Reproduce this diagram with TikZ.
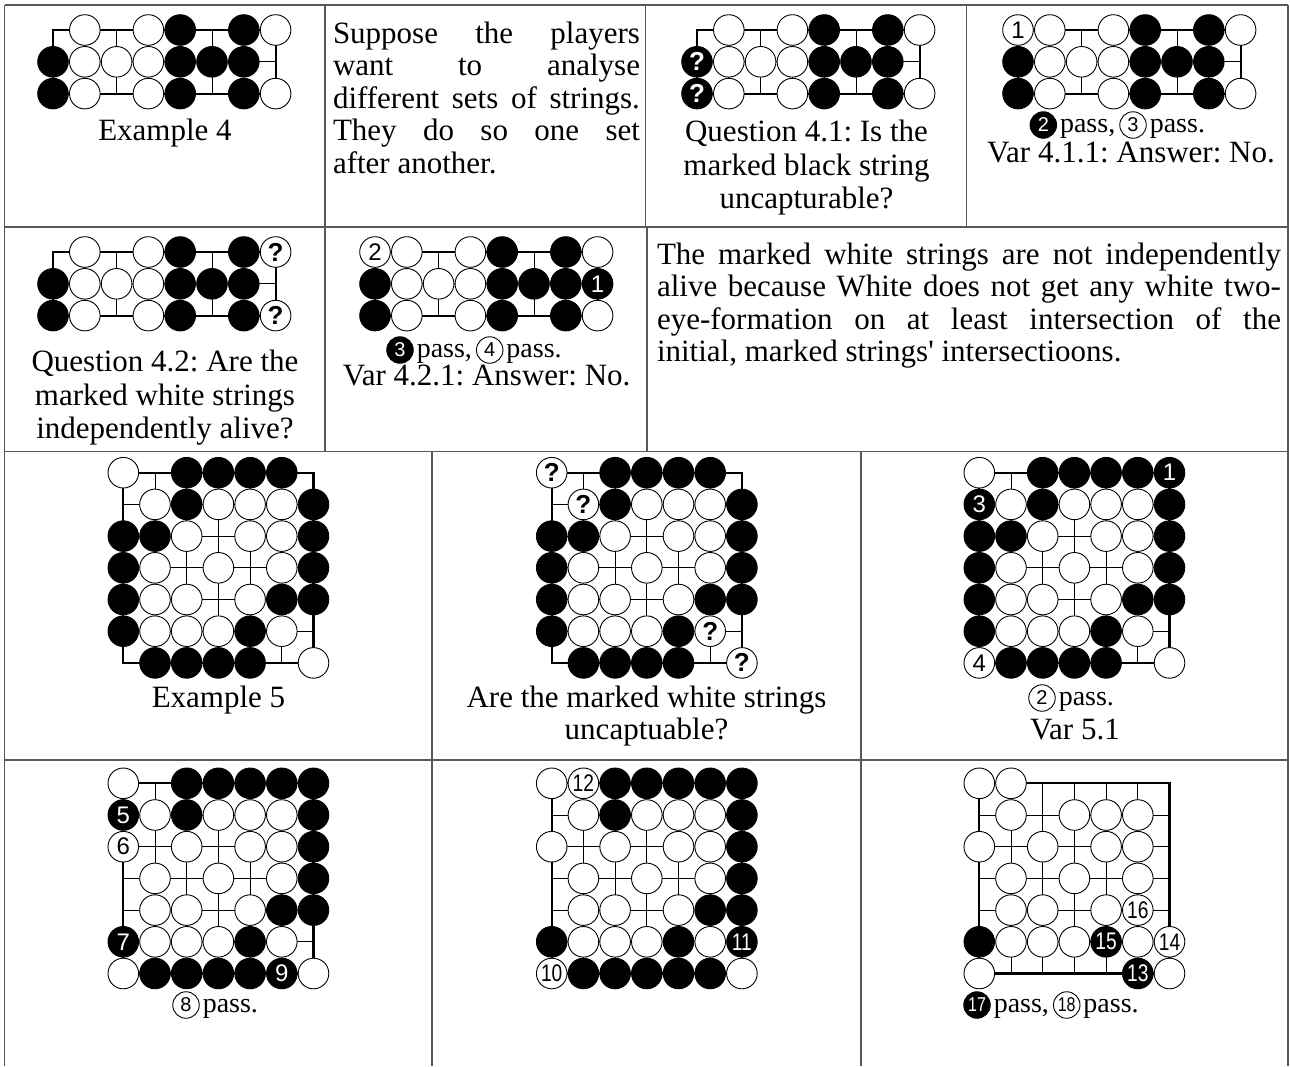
\documentclass[tikz,border=0pt]{standalone}
\usepackage{graphicx}
\usepackage{fontspec}
\setmainfont{Liberation Serif}
\newfontfamily\lsans{Liberation Sans}
\usetikzlibrary{calc}
\frenchspacing
\def\tn{n}
\newcommand\qm{{\fontsize{26}{26}\selectfont\textbf{?}}}
\newcommand\tw[1]{\scalebox{0.8}[1]{#1}}
% grid: x0,y0,lastcol,lastrow,spacing,interior cols,interior rows
\newcommand\gogrid[7]{%
  \foreach \c in {#6} \draw[gridline] ({#1+\c*#5},#2) -- ({#1+\c*#5},{#2+#4*#5});
  \foreach \r in {#7} \draw[gridline] (#1,{#2+\r*#5}) -- ({#1+#3*#5},{#2+\r*#5});
  \draw[edgeline] (#1,#2) rectangle ({#1+#3*#5},{#2+#4*#5});
}
% row of stones: name prefix, x0, y, spacing, list type/label
\newcommand\gorow[5]{%
  \foreach \stype/\slab [count=\i from 0] in {#5} {%
    \ifx\stype\tn\else
      \node[st\stype] (#1-\i) at ({#2+\i*#4},#3) {\slab};
    \fi}}
\begin{document}
\begin{tikzpicture}[x=1pt,y=-1pt,
  every node/.style={inner sep=0pt, outer sep=0pt},
  gridline/.style={line width=0.9pt, draw=black},
  edgeline/.style={line width=2.2pt, draw=black},
  stw/.style={circle, draw=black, line width=0.9pt, fill=white, text=black, minimum size=30.6pt, font=\lsans\fontsize{24}{24}\selectfont},
  stb/.style={circle, draw=black, line width=0.9pt, fill=black, text=white, minimum size=30.6pt, font=\lsans\fontsize{24}{24}\selectfont},
  smw/.style={circle, draw=black, line width=0.9pt, fill=white, text=black, minimum size=26.5pt, font=\lsans\fontsize{20}{20}\selectfont},
  smb/.style={circle, draw=black, line width=0.9pt, fill=black, text=white, minimum size=26.5pt, font=\lsans\fontsize{20}{20}\selectfont},
  txt/.style={font=\fontsize{31}{34}\selectfont, anchor=base, text=black},
  txtl/.style={txt, anchor=base west},
  pss/.style={font=\fontsize{28}{30}\selectfont, anchor=base west, text=black},
  rule/.style={line width=1.4pt, draw=black!65}
]
\fill[white] (0,0) rectangle (1290,1066);
\useasboundingbox (0,0) rectangle (1290,1066);

% ---------- table rules ----------
\draw[rule] (4.5,5) -- (1288,5);
\draw[rule] (4.5,227) -- (1288,227);
\draw[rule] (4.5,451.5) -- (1288,451.5);
\draw[rule] (4.5,760) -- (1288,760);
\draw[rule] (4.5,5) -- (4.5,1066);
\draw[rule] (1288,5) -- (1288,1066);
\draw[rule] (325,5) -- (325,451.5);
\draw[rule] (645.5,5) -- (645.5,227);
\draw[rule] (966.5,5) -- (966.5,227);
\draw[rule] (647,227) -- (647,451.5);
\draw[rule] (432,451.5) -- (432,1066);
\draw[rule] (861,451.5) -- (861,1066);

% ---------- Example 4 ----------
\gogrid{53}{30}{7}{2}{31.8}{1,...,6}{1}
\gorow{ea0}{53}{30}{31.8}{n/,w/,n/,w/,b/,n/,b/,w/}
\gorow{ea1}{53}{61.8}{31.8}{b/,w/,w/,w/,b/,b/,b/,n/}
\gorow{ea2}{53}{93.6}{31.8}{b/,w/,n/,w/,b/,n/,b/,w/}
\node[txt] (ex4) at (165,140) {Example 4};

% ---------- text cell ----------
\node[txtl] (s1) at (333,43) {\makebox[307pt][s]{Suppose the players}};
\node[txtl] (s2) at (333,75.5) {\makebox[307pt][s]{want to analyse}};
\node[txtl] (s3) at (333,108) {\makebox[307pt][s]{different sets of strings.}};
\node[txtl] (s4) at (333,140.5) {\makebox[307pt][s]{They do so one set}};
\node[txtl] (s5) at (333,173) {after another.};

% ---------- Question 4.1 ----------
\gogrid{697}{30}{7}{2}{31.8}{1,...,6}{1}
\gorow{qa0}{697}{30}{31.8}{n/,w/,n/,w/,b/,n/,b/,w/}
\gorow{qa1}{697}{61.8}{31.8}{b/\qm,w/,w/,w/,b/,b/,b/,n/}
\gorow{qa2}{697}{93.6}{31.8}{b/\qm,w/,n/,w/,b/,n/,b/,w/}
\node[txt] (q41a) at (806.5,141.7) {Question 4.1: Is the};
\node[txt] (q41b) at (806.5,175) {marked black string};
\node[txt] (q41c) at (806.5,208.3) {uncapturable?};

% ---------- Var 4.1.1 ----------
\gogrid{1018}{30}{7}{2}{31.8}{1,...,6}{1}
\gorow{va0}{1018}{30}{31.8}{w/1,w/,n/,w/,b/,n/,b/,w/}
\gorow{va1}{1018}{61.8}{31.8}{b/,w/,w/,w/,b/,b/,b/,n/}
\gorow{va2}{1018}{93.6}{31.8}{b/,w/,n/,w/,b/,n/,b/,w/}
\node[smb] (v411c1) at (1043.3,125) {2};
\path (v411c1.east) ++(3.5,7) node[pss] (v411p1) {pass,};
\path (v411p1.base east) ++(4.5,-7) node[smw, anchor=west] (v411c2) {3};
\path (v411c2.east) ++(3.5,7) node[pss] (v411p2) {pass.};
\node[txt] (v411) at (1131,162) {Var 4.1.1: Answer: No.};

% ---------- Question 4.2 ----------
\gogrid{53}{252}{7}{2}{31.8}{1,...,6}{1}
\gorow{qb0}{53}{252}{31.8}{n/,w/,n/,w/,b/,n/,b/,w/\qm}
\gorow{qb1}{53}{283.8}{31.8}{b/,w/,w/,w/,b/,b/,b/,n/}
\gorow{qb2}{53}{315.6}{31.8}{b/,w/,n/,w/,b/,n/,b/,w/\qm}
\node[txt] (q42a) at (165,371.7) {Question 4.2: Are the};
\node[txt] (q42b) at (165,405) {marked white strings};
\node[txt] (q42c) at (165,438.3) {independently alive?};

% ---------- Var 4.2.1 ----------
\gogrid{375}{252}{7}{2}{31.8}{1,...,6}{1}
\gorow{vb0}{375}{252}{31.8}{w/2,w/,n/,w/,b/,n/,b/,w/}
\gorow{vb1}{375}{283.8}{31.8}{b/,w/,w/,w/,b/,b/,b/,b/1}
\gorow{vb2}{375}{315.6}{31.8}{b/,w/,n/,w/,b/,n/,b/,w/}
\node[smb] (v421c1) at (400,350) {3};
\path (v421c1.east) ++(3.5,7) node[pss] (v421p1) {pass,};
\path (v421p1.base east) ++(4.5,-7) node[smw, anchor=west] (v421c2) {4};
\path (v421c2.east) ++(3.5,7) node[pss] (v421p2) {pass.};
\node[txt] (v421) at (486.7,385) {Var 4.2.1: Answer: No.};

% ---------- right text in row 2 ----------
\node[txtl] (t1) at (657,264) {\makebox[624pt][s]{The marked white strings are not independently}};
\node[txtl] (t2) at (657,296.5) {\makebox[624pt][s]{alive because White does not get any white two-}};
\node[txtl] (t3) at (657,329) {\makebox[624pt][s]{eye-formation on at least intersection of the}};
\node[txtl] (t4) at (657,361.5) {initial, marked strings\textquotesingle{} intersectioons.};

% ---------- Example 5 ----------
\gogrid{123.3}{472.7}{6}{6}{31.7}{1,...,5}{1,...,5}
\gorow{e5r0}{123.3}{472.7}{31.7}{w/,n/,b/,b/,b/,b/,n/}
\gorow{e5r1}{123.3}{504.4}{31.7}{n/,w/,b/,w/,w/,w/,b/}
\gorow{e5r2}{123.3}{536.1}{31.7}{b/,b/,w/,n/,w/,w/,b/}
\gorow{e5r3}{123.3}{567.8}{31.7}{b/,w/,n/,w/,n/,w/,b/}
\gorow{e5r4}{123.3}{599.5}{31.7}{b/,w/,w/,n/,w/,b/,b/}
\gorow{e5r5}{123.3}{631.2}{31.7}{b/,w/,w/,w/,b/,w/,n/}
\gorow{e5r6}{123.3}{662.9}{31.7}{n/,b/,b/,b/,b/,n/,w/}
\node[txt] (ex5) at (218.5,707) {Example 5};

% ---------- Question 5 ----------
\gogrid{551.7}{472.7}{6}{6}{31.7}{1,...,5}{1,...,5}
\gorow{q5r0}{551.7}{472.7}{31.7}{w/\qm,n/,b/,b/,b/,b/,n/}
\gorow{q5r1}{551.7}{504.4}{31.7}{n/,w/\qm,b/,w/,w/,w/,b/}
\gorow{q5r2}{551.7}{536.1}{31.7}{b/,b/,w/,n/,w/,w/,b/}
\gorow{q5r3}{551.7}{567.8}{31.7}{b/,w/,n/,w/,n/,w/,b/}
\gorow{q5r4}{551.7}{599.5}{31.7}{b/,w/,w/,n/,w/,b/,b/}
\gorow{q5r5}{551.7}{631.2}{31.7}{b/,w/,w/,w/,b/,w/\qm,n/}
\gorow{q5r6}{551.7}{662.9}{31.7}{n/,b/,b/,b/,b/,n/,w/\qm}
\node[txt] (q5a) at (646.5,707) {Are the marked white strings};
\node[txt] (q5b) at (646.5,739) {uncaptuable?};

% ---------- Var 5.1 ----------
\gogrid{979.3}{472.7}{6}{6}{31.7}{1,...,5}{1,...,5}
\gorow{v5r0}{979.3}{472.7}{31.7}{w/,n/,b/,b/,b/,b/,b/1}
\gorow{v5r1}{979.3}{504.4}{31.7}{b/3,w/,b/,w/,w/,w/,b/}
\gorow{v5r2}{979.3}{536.1}{31.7}{b/,b/,w/,n/,w/,w/,b/}
\gorow{v5r3}{979.3}{567.8}{31.7}{b/,w/,n/,w/,n/,w/,b/}
\gorow{v5r4}{979.3}{599.5}{31.7}{b/,w/,w/,n/,w/,b/,b/}
\gorow{v5r5}{979.3}{631.2}{31.7}{b/,w/,w/,w/,b/,w/,n/}
\gorow{v5r6}{979.3}{662.9}{31.7}{w/4,b/,b/,b/,b/,n/,w/}
\node[smw] (v51c) at (1042,698) {2};
\path (v51c.east) ++(3.5,7) node[pss] (v51p) {pass.};
\node[txt] (v51) at (1075,739) {Var 5.1};

% ---------- Row 4, board 1 ----------
\gogrid{123.3}{783.3}{6}{6}{31.7}{1,...,5}{1,...,5}
\gorow{d1r0}{123.3}{783.3}{31.7}{w/,n/,b/,b/,b/,b/,b/}
\gorow{d1r1}{123.3}{815}{31.7}{b/5,w/,b/,w/,w/,w/,b/}
\gorow{d1r2}{123.3}{846.7}{31.7}{w/6,n/,w/,n/,w/,w/,b/}
\gorow{d1r3}{123.3}{878.4}{31.7}{n/,w/,n/,w/,n/,w/,b/}
\gorow{d1r4}{123.3}{910.1}{31.7}{n/,w/,w/,n/,w/,b/,b/}
\gorow{d1r5}{123.3}{941.8}{31.7}{b/7,w/,w/,w/,b/,w/,n/}
\gorow{d1r6}{123.3}{973.5}{31.7}{w/,b/,b/,b/,b/,b/9,w/}
\node[smw] (d1c) at (186,1005) {8};
\path (d1c.east) ++(3.5,7) node[pss] (d1p) {pass.};

% ---------- Row 4, board 2 ----------
\gogrid{551.7}{783.3}{6}{6}{31.7}{1,...,5}{1,...,5}
\gorow{d2r0}{551.7}{783.3}{31.7}{w/,w/\tw{12},b/,b/,b/,b/,b/}
\gorow{d2r1}{551.7}{815}{31.7}{n/,w/,b/,w/,w/,w/,b/}
\gorow{d2r2}{551.7}{846.7}{31.7}{w/,n/,w/,n/,w/,w/,b/}
\gorow{d2r3}{551.7}{878.4}{31.7}{n/,w/,n/,w/,n/,w/,b/}
\gorow{d2r4}{551.7}{910.1}{31.7}{n/,w/,w/,n/,w/,b/,b/}
\gorow{d2r5}{551.7}{941.8}{31.7}{b/,w/,w/,w/,b/,w/,b/\tw{11}}
\gorow{d2r6}{551.7}{973.5}{31.7}{w/\tw{10},b/,b/,b/,b/,b/,w/}

% ---------- Row 4, board 3 ----------
\gogrid{979.3}{783.3}{6}{6}{31.7}{1,...,5}{1,...,5}
\gorow{d3r0}{979.3}{783.3}{31.7}{w/,w/,n/,n/,n/,n/,n/}
\gorow{d3r1}{979.3}{815}{31.7}{n/,w/,n/,w/,w/,w/,n/}
\gorow{d3r2}{979.3}{846.7}{31.7}{w/,n/,w/,n/,w/,w/,n/}
\gorow{d3r3}{979.3}{878.4}{31.7}{n/,w/,n/,w/,n/,w/,n/}
\gorow{d3r4}{979.3}{910.1}{31.7}{n/,w/,w/,n/,w/,w/\tw{16},n/}
\gorow{d3r5}{979.3}{941.8}{31.7}{b/,w/,w/,w/,b/\tw{15},w/,w/\tw{14}}
\gorow{d3r6}{979.3}{973.5}{31.7}{w/,n/,n/,n/,n/,b/\tw{13},w/}
\node[smb] (d3c1) at (977,1005) {\tw{17}};
\path (d3c1.east) ++(3.5,7) node[pss] (d3p1) {pass,};
\path (d3p1.base east) ++(4.5,-7) node[smw, anchor=west] (d3c2) {\tw{18}};
\path (d3c2.east) ++(3.5,7) node[pss] (d3p2) {pass.};
\end{tikzpicture}
\end{document}
